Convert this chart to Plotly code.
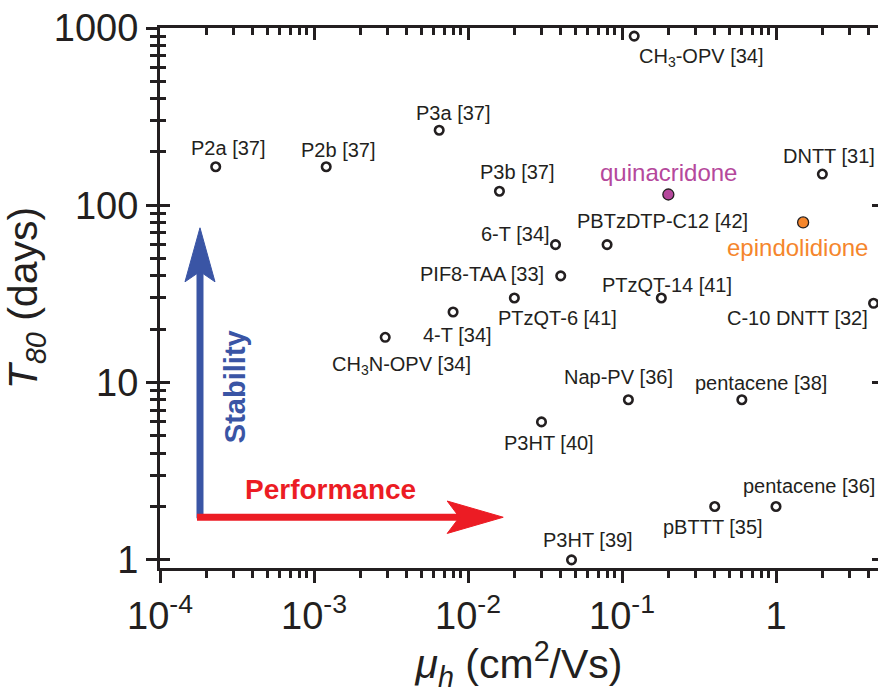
import numpy as np
import plotly.graph_objects as go

# Hole mobility (cm^2/Vs) versus T80 lifetime (days) of organic semiconductors
labels = ["CH<sub>3</sub>-OPV [34]", "P2a [37]", "P2b [37]", "P3a [37]", "P3b [37]",
          "DNTT [31]", "6-T [34]", "PBTzDTP-C12 [42]", "PIF8-TAA [33]", "PTzQT-6 [41]",
          "PTzQT-14 [41]", "4-T [34]", "C-10 DNTT [32]", "CH<sub>3</sub>N-OPV [34]",
          "Nap-PV [36]", "pentacene [38]", "P3HT [40]", "pBTTT [35]", "pentacene [36]",
          "P3HT [39]"]
mobility = [0.12, 2.3e-4, 1.2e-3, 6.5e-3, 0.016,
            2.0, 0.037, 0.08, 0.04, 0.02,
            0.18, 0.008, 4.3, 2.9e-3,
            0.11, 0.6, 0.03, 0.4, 1.0,
            0.047]
t80 = [900, 165, 165, 265, 120,
       150, 60, 60, 40, 30,
       30, 25, 28, 18,
       8, 8, 6, 2, 2,
       1]

highlight_names = ["quinacridone", "epindolidione"]
highlight_mobility = [0.2, 1.5]
highlight_t80 = [115, 80]
highlight_colors = ["#b5489c", "#f5862c"]

x_ticks = [1e-4, 1e-3, 1e-2, 1e-1, 1]
x_ticktext = ["10<sup>-4</sup>", "10<sup>-3</sup>", "10<sup>-2</sup>", "10<sup>-1</sup>", "1"]
y_ticks = [1, 10, 100, 1000]
y_ticktext = ["1", "10", "100", "1000"]

# label offsets in pixels (dx right, dy up) from each marker
label_offsets = [(67, -21), (13, 19), (12, 17), (14, 17), (18, 19),
                 (7, 18), (-40, 11), (55, 24), (-79, 2), (43, -20),
                 (6, 13), (4, -23), (-76, -15), (16, -28),
                 (-10, 23), (19, 17), (8, -21), (-2, -21), (33, 20),
                 (16, 20)]
highlight_offsets = [(0, 22), (-6, -25)]

INK = "#231f20"
FONT = "Liberation Sans, Arial, sans-serif"

minor_x = [k * 10.0 ** e for e in range(-4, 1) for k in range(2, 10)]
minor_y = [k * 10.0 ** e for e in range(0, 3) for k in range(2, 10)]

fig = go.Figure()
fig.add_trace(go.Scatter(
    x=mobility, y=t80, mode="markers",
    marker=dict(symbol="circle", size=8.5, color="white",
                line=dict(color=INK, width=2.6)),
    hoverinfo="skip", showlegend=False))
fig.add_trace(go.Scatter(
    x=highlight_mobility, y=highlight_t80, mode="markers",
    marker=dict(symbol="circle", size=11, color=highlight_colors,
                line=dict(color=INK, width=1.3)),
    hoverinfo="skip", showlegend=False))

# empty traces so the frame axes (top, inner-left, right) get drawn
for xa, ya in [("x2", "y"), ("x", "y2"), ("x", "y3")]:
    fig.add_trace(go.Scatter(x=[], y=[], xaxis=xa, yaxis=ya, mode="markers",
                             hoverinfo="skip", showlegend=False))

for name, xv, yv, (dx, dy) in zip(labels, mobility, t80, label_offsets):
    fig.add_annotation(x=np.log10(xv), y=np.log10(yv), text=name, showarrow=False,
                       xanchor="center", yanchor="middle",
                       xshift=dx, yshift=dy, font=dict(family=FONT, size=20, color=INK))
for name, xv, yv, col, (dx, dy) in zip(highlight_names, highlight_mobility, highlight_t80,
                                       highlight_colors, highlight_offsets):
    fig.add_annotation(x=np.log10(xv), y=np.log10(yv), text=name, showarrow=False,
                       xanchor="center", yanchor="middle",
                       xshift=dx, yshift=dy, font=dict(family=FONT, size=24, color=col))

# direction arrows (paper coordinates)
BLUE = "#3a55a5"
RED = "#ec1c24"
fig.add_shape(type="line", xref="paper", yref="paper", x0=0.0557, x1=0.0557, y0=0.092, y1=0.55,
              line=dict(color=BLUE, width=7))
fig.add_shape(type="path", xref="paper", yref="paper",
              path="M 0.0557,0.63 L 0.0766,0.530 L 0.0557,0.549 L 0.0348,0.530 Z",
              fillcolor=BLUE, line=dict(color=BLUE, width=1))
fig.add_shape(type="line", xref="paper", yref="paper", x0=0.0515, x1=0.42, y0=0.094, y1=0.094,
              line=dict(color=RED, width=7))
fig.add_shape(type="path", xref="paper", yref="paper",
              path="M 0.478,0.094 L 0.40,0.124 L 0.417,0.094 L 0.40,0.064 Z",
              fillcolor=RED, line=dict(color=RED, width=1))

fig.add_annotation(xref="paper", yref="paper", x=0.1045, y=0.335, text="Stability",
                   textangle=-90, showarrow=False, xanchor="center", yanchor="middle",
                   font=dict(family=FONT, size=29, color=BLUE, weight="bold"))
fig.add_annotation(xref="paper", yref="paper", x=0.2368, y=0.146, text="Performance",
                   showarrow=False, xanchor="center", yanchor="middle",
                   font=dict(family=FONT, size=28, color=RED, weight="bold"))

xr = [-4, 0.6623]
yr = [-0.046, 3]
common = dict(type="log", showgrid=False, zeroline=False, linecolor=INK, tickcolor=INK,
              tickwidth=2.5)

fig.update_layout(
    width=878, height=693,
    margin=dict(l=160, r=0, t=28, b=125),
    paper_bgcolor="white", plot_bgcolor="white",
    font=dict(family=FONT, color=INK),
    xaxis=dict(**common, range=xr, tickvals=x_ticks, ticktext=x_ticktext,
               ticks="outside", ticklen=12, showline=True, linewidth=3,
               minor=dict(tickvals=minor_x, ticks="outside", ticklen=7, tickwidth=2.5,
                          tickcolor=INK, showgrid=False),
               tickfont=dict(size=38, family=FONT, color=INK),
               title=dict(text="<i>μ</i><sub><i>h</i></sub> (cm<sup>2</sup>/Vs)",
                          font=dict(size=41, family=FONT, color=INK), standoff=4)),
    xaxis2=dict(**common, range=xr, overlaying="x", side="top", anchor="y",
                tickvals=x_ticks, showticklabels=False, ticks="inside", ticklen=12,
                showline=True, linewidth=3,
                minor=dict(tickvals=minor_x, ticks="inside", ticklen=7, tickwidth=2.5,
                           tickcolor=INK, showgrid=False)),
    yaxis=dict(**common, range=yr, tickvals=y_ticks, ticktext=y_ticktext,
               ticks="outside", ticklen=11, showline=True, linewidth=3,
               minor=dict(tickvals=minor_y, ticks="outside", ticklen=7, tickwidth=2.5,
                          tickcolor=INK, showgrid=False),
               tickfont=dict(size=38, family=FONT, color=INK),
               title=dict(text="<i>T</i><sub><i>80</i></sub> (days)",
                          font=dict(size=41, family=FONT, color=INK), standoff=6)),
    yaxis2=dict(**common, range=yr, overlaying="y", side="left", anchor="x",
                tickvals=y_ticks, showticklabels=False, ticks="inside", ticklen=10,
                showline=False,
                minor=dict(tickvals=minor_y, ticks="inside", ticklen=6, tickwidth=2.5,
                           tickcolor=INK, showgrid=False)),
    yaxis3=dict(**common, range=yr, overlaying="y", side="right", anchor="x",
                tickvals=y_ticks, showticklabels=False, ticks="inside", ticklen=6,
                showline=False),
)

fig.write_html("out.html")
